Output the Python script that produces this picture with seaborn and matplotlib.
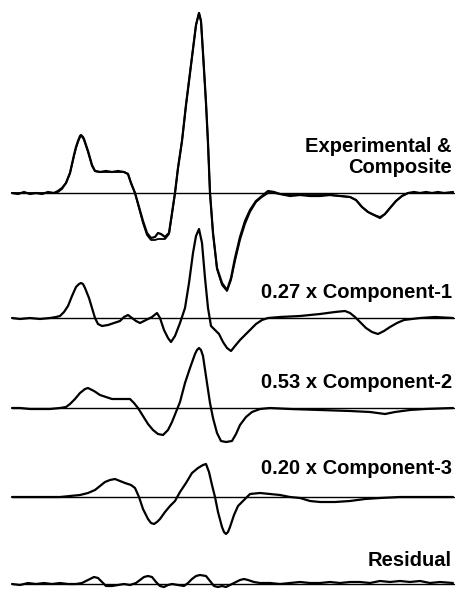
import numpy as np
import pandas as pd
import matplotlib
matplotlib.use("Agg")
import matplotlib.pyplot as plt
import seaborn as sns

sns.set_style("white")
plt.rcParams['font.family'] = ['Liberation Sans', 'DejaVu Sans']

# field position (arbitrary units) and derivative amplitude (arbitrary units)
exp_x = [12, 18, 24, 30, 36, 42, 48, 54, 58, 62, 66, 70, 74, 76, 78, 80, 81, 83, 84,
         88, 92, 95, 100, 106, 112, 118, 124, 128, 131, 135, 139, 143, 147, 151,
         155, 158, 161, 165, 169, 172, 175, 178, 182, 186, 190, 194, 196, 199, 201,
         203, 206, 208, 210, 213, 217, 222, 227, 231, 235, 240, 245, 250, 256, 262,
         268, 274, 280, 290, 300, 310, 320, 330, 340, 350, 356, 362, 368, 374, 380,
         385, 390, 396, 402, 408, 414, 420, 426, 432, 438, 444, 453]
exp_y = [0, -1, 1, -1, 0, -1, 1, 0, 2, 5, 10, 20, 38, 46, 52, 57, 58, 56, 54,
         42, 28, 22, 21, 22, 21, 22, 21, 19, 10, 0, -14, -28, -40, -45,
         -44, -40, -41, -44, -40, -20, 0, 25, 52, 88, 120, 152, 168, 180, 172,
         140, 90, 50, 0, -40, -75, -90, -97, -85, -65, -44, -28, -17, -8, -3,
         2, 1, -1, -3, -2, -3, -3, -2, -3, -4, -7, -14, -19, -22, -25,
         -21, -15, -8, -3, 0, 1, 0, 1, 0, 1, 0, 1]
comp_y = [0, 0, 0, 0, 0, 0, 0, 0, 1, 4, 10, 20, 37, 45, 51, 56, 57, 55, 53,
          41, 27, 22, 21, 21, 21, 21, 21, 19, 10, 0, -15, -30, -42, -47,
          -47, -46, -46, -46, -41, -21, 0, 25, 52, 88, 120, 152, 168, 180, 172,
          140, 90, 50, 0, -40, -76, -92, -98, -87, -68, -47, -31, -19, -9, -4,
          0, 0, -1, -2, -2, -2, -2, -2, -3, -4, -7, -14, -19, -22, -24,
          -21, -15, -8, -3, 0, 0, 0, 0, 0, 0, 0, 0]

c1_x = [12, 20, 30, 40, 50, 56, 60, 64, 68, 72, 76, 79, 81, 83, 85, 89, 92, 95, 98,
        102, 108, 114, 120, 124, 128, 132, 136, 140, 146, 152, 157, 160, 164, 168,
        171, 175, 180, 185, 189, 193, 196, 199, 202, 205, 208, 211, 215, 219, 223,
        227, 231, 235, 240, 245, 250, 256, 262, 268, 280, 300, 320, 335, 345, 350,
        355, 360, 366, 372, 378, 384, 390, 397, 404, 412, 420, 435, 453]
c1_y = [0, -1, 0, -1, 0, 1, 2, 6, 12, 22, 31, 34, 35, 34, 30, 20, 10, 0, -6,
        -8, -7, -5, -3, 1, 3, 0, -3, -5, -2, 1, 5, 0, -12, -20,
        -24, -18, -5, 10, 35, 65, 82, 89, 75, 40, 10, -8, -12, -16, -24,
        -30, -33, -28, -22, -17, -12, -6, -2, 0, 1, 2, 4, 6, 7, 5,
        1, -4, -10, -14, -16, -13, -9, -5, -2, -1, 0, 1, 0]

c2_x = [12, 20, 30, 40, 50, 60, 66, 70, 75, 80, 85, 88, 94, 100, 106, 112, 118,
        124, 130, 134, 138, 143, 148, 153, 158, 163, 168, 172, 176, 180, 185, 190,
        195, 197, 199, 201, 203, 207, 210, 213, 217, 221, 226, 232, 236, 240, 246,
        252, 260, 270, 290, 320, 350, 370, 385, 395, 410, 425, 453]
c2_y = [0, 0, -1, -1, -1, 0, 1, 4, 9, 15, 19, 20, 17, 13, 11, 9, 9,
        9, 9, 5, 0, -8, -16, -22, -26, -27, -22, -14, -4, 6, 25, 40,
        54, 58, 60, 58, 52, 25, 5, -10, -25, -33, -34, -33, -26, -17, -9,
        -4, -1, 0, -1, -2, -3, -4, -6, -4, -2, -1, 0]

c3_x = [12, 40, 60, 70, 80, 88, 95, 100, 105, 110, 115, 120, 125, 131, 135, 139,
        143, 148, 151, 154, 157, 160, 165, 170, 175, 180, 186, 192, 198, 203, 206,
        209, 212, 215, 218, 222, 224, 226, 228, 230, 234, 238, 243, 250, 260, 270,
        280, 290, 300, 310, 320, 335, 350, 365, 380, 400, 453]
c3_y = [0, 0, 0, 1, 2, 4, 7, 11, 15, 17, 18, 16, 14, 12, 9, 0,
        -12, -22, -26, -27, -25, -22, -15, -9, -4, 5, 14, 24, 29, 32, 33,
        25, 12, 0, -15, -30, -35, -37, -35, -30, -18, -9, -4, 3, 4, 3,
        2, 0, -1, -4, -5, -5, -4, -2, -1, 0, 0]

res_x = [12, 20, 28, 36, 44, 52, 60, 68, 76, 82, 86, 90, 94, 98, 102, 106, 112,
         118, 124, 130, 136, 140, 144, 148, 152, 156, 160, 164, 168, 172, 178, 184,
         188, 192, 196, 200, 206, 210, 214, 218, 222, 226, 232, 236, 240, 244, 248,
         254, 260, 270, 280, 290, 300, 310, 320, 330, 340, 350, 360, 370, 380, 390,
         400, 410, 420, 430, 440, 453]
res_y = [0, -1, 1, 0, 1, 0, 1, 0, 0, 1, 3, 5, 7, 6, 2, -2, -2,
         -1, 0, -1, 1, 4, 7, 8, 7, 2, -2, -3, -1, 0, -1, -2,
         1, 5, 8, 9, 8, 3, -2, -3, -2, -3, 0, 2, 4, 5, 4,
         2, 1, 1, 0, 1, 2, 1, 1, 2, 1, 2, 2, 1, 3, 2,
         3, 2, 3, 1, 2, 1]

labels = ["Experimental &\nComposite", "0.27 x Component-1", "0.53 x Component-2",
          "0.20 x Component-3", "Residual"]

# vertical stacking of the traces (baseline positions)
offsets = [-193, -318, -408, -497, -584]
label_y = [-157, -292, -382, -469, -560]

fig = plt.figure(figsize=(4.56, 5.91), dpi=100)
ax = fig.add_axes([0, 0, 1, 1])

traces = [(exp_x, exp_y), (c1_x, c1_y), (c2_x, c2_y), (c3_x, c3_y), (res_x, res_y)]
for (x, y), off in zip(traces, offsets):
    ax.plot([12, 454], [off, off], color='black', lw=1.0)
    df = pd.DataFrame({'field': x, 'signal': np.array(y) + off})
    sns.lineplot(data=df, x='field', y='signal', ax=ax, color='black', lw=1.6,
                 sort=False, estimator=None)

# composite fit overlaid on the experimental spectrum
df = pd.DataFrame({'field': exp_x, 'signal': np.array(comp_y) + offsets[0]})
sns.lineplot(data=df, x='field', y='signal', ax=ax, color='black', lw=1.3,
             sort=False, estimator=None)

for lab, ly in zip(labels, label_y):
    ax.text(452, ly, lab, ha='right', va='center', fontsize=14.5,
            fontweight='bold', color='black', linespacing=1.1)

ax.set_xlim(0, 456)
ax.set_ylim(-591, 0)
ax.axis('off')
fig.savefig('out.png', dpi=100)
